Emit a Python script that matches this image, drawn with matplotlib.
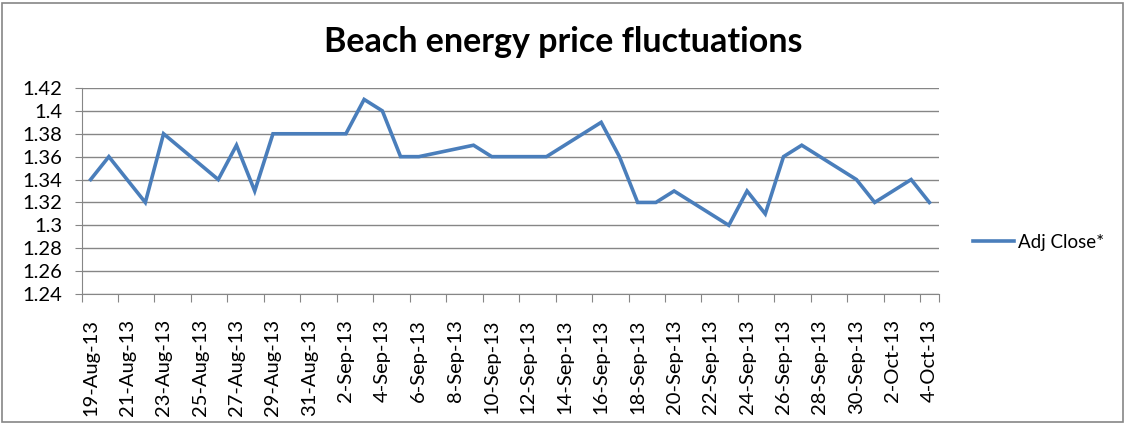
# Beach energy price fluctuations - Excel style line chart

import pandas as pd
import matplotlib.pyplot as plt
from matplotlib.patches import Rectangle

dates = ['2013-08-19', '2013-08-20', '2013-08-21', '2013-08-22', '2013-08-23',
         '2013-08-26', '2013-08-27', '2013-08-28', '2013-08-29', '2013-08-30',
         '2013-09-02', '2013-09-03', '2013-09-04', '2013-09-05', '2013-09-06',
         '2013-09-09', '2013-09-10', '2013-09-11', '2013-09-12', '2013-09-13',
         '2013-09-16', '2013-09-17', '2013-09-18', '2013-09-19', '2013-09-20',
         '2013-09-23', '2013-09-24', '2013-09-25', '2013-09-26', '2013-09-27',
         '2013-09-30', '2013-10-01', '2013-10-02', '2013-10-03', '2013-10-04']
adj_close = [1.34, 1.36, 1.34, 1.32, 1.38,
             1.34, 1.37, 1.33, 1.38, 1.38,
             1.38, 1.41, 1.40, 1.36, 1.36,
             1.37, 1.36, 1.36, 1.36, 1.36,
             1.39, 1.36, 1.32, 1.32, 1.33,
             1.30, 1.33, 1.31, 1.36, 1.37,
             1.34, 1.32, 1.33, 1.34, 1.32]
y_ticks = [1.24, 1.26, 1.28, 1.3, 1.32, 1.34, 1.36, 1.38, 1.4, 1.42]
y_labels = ['1.24', '1.26', '1.28', '1.3', '1.32', '1.34', '1.36', '1.38', '1.4', '1.42']

dt = pd.to_datetime(dates)
start = dt[0]
days = (dt - start).days.values  # day offsets, date axis like excel
n_days = days[-1]

plt.rcParams['font.family'] = ['Lato', 'DejaVu Sans']

fig = plt.figure(figsize=(11.26, 4.24), dpi=100)
ax = fig.add_axes([81.5 / 1126, 1 - 294 / 424, (938.5 - 81.5) / 1126, (294 - 88) / 424])

ax.plot(days, adj_close, color='#4A7EBB', lw=2.6, solid_joinstyle='miter',
        label='Adj Close*', zorder=3)

ax.set_xlim(-0.5, n_days + 0.5)
ax.set_ylim(1.24, 1.42)
ax.set_yticks(y_ticks)
ax.set_yticklabels(y_labels, fontsize=14.5)
ax.grid(axis='y', color='#868686', lw=1)

# ticks on day boundaries, labels in the middle of the day slot
label_days = list(range(0, n_days + 1, 2))
ax.set_xticks([d - 0.5 for d in label_days] + [n_days + 0.5])
ax.set_xticklabels([])
ax.set_xticks(label_days, minor=True)
ax.set_xticklabels([(start + pd.Timedelta(days=d)).strftime('%-d-%b-%y') for d in label_days],
                   minor=True, rotation=90, fontsize=14.5)
ax.tick_params(axis='x', which='minor', length=0, pad=18)
ax.tick_params(axis='x', which='major', length=6, color='#868686')
ax.tick_params(axis='y', length=5, color='#868686', pad=9)

for side in ['top', 'right']:
    ax.spines[side].set_visible(False)
for side in ['left', 'bottom']:
    ax.spines[side].set_color('#868686')

fig.text(0.5, 1 - 42 / 424, 'Beach energy price fluctuations', ha='center', va='center',
         fontsize=24.5, fontweight='bold')

ax.legend(loc='center left', bbox_to_anchor=(1.02, 0.25), frameon=False, fontsize=13.5,
          handlelength=2.2, handletextpad=0.25)

fig.patches.append(Rectangle((2 / 1126, 2 / 424), 1121 / 1126, 419 / 424, transform=fig.transFigure,
                             fill=False, edgecolor='#868686', lw=1.2))

fig.savefig('out.png', dpi=100)
